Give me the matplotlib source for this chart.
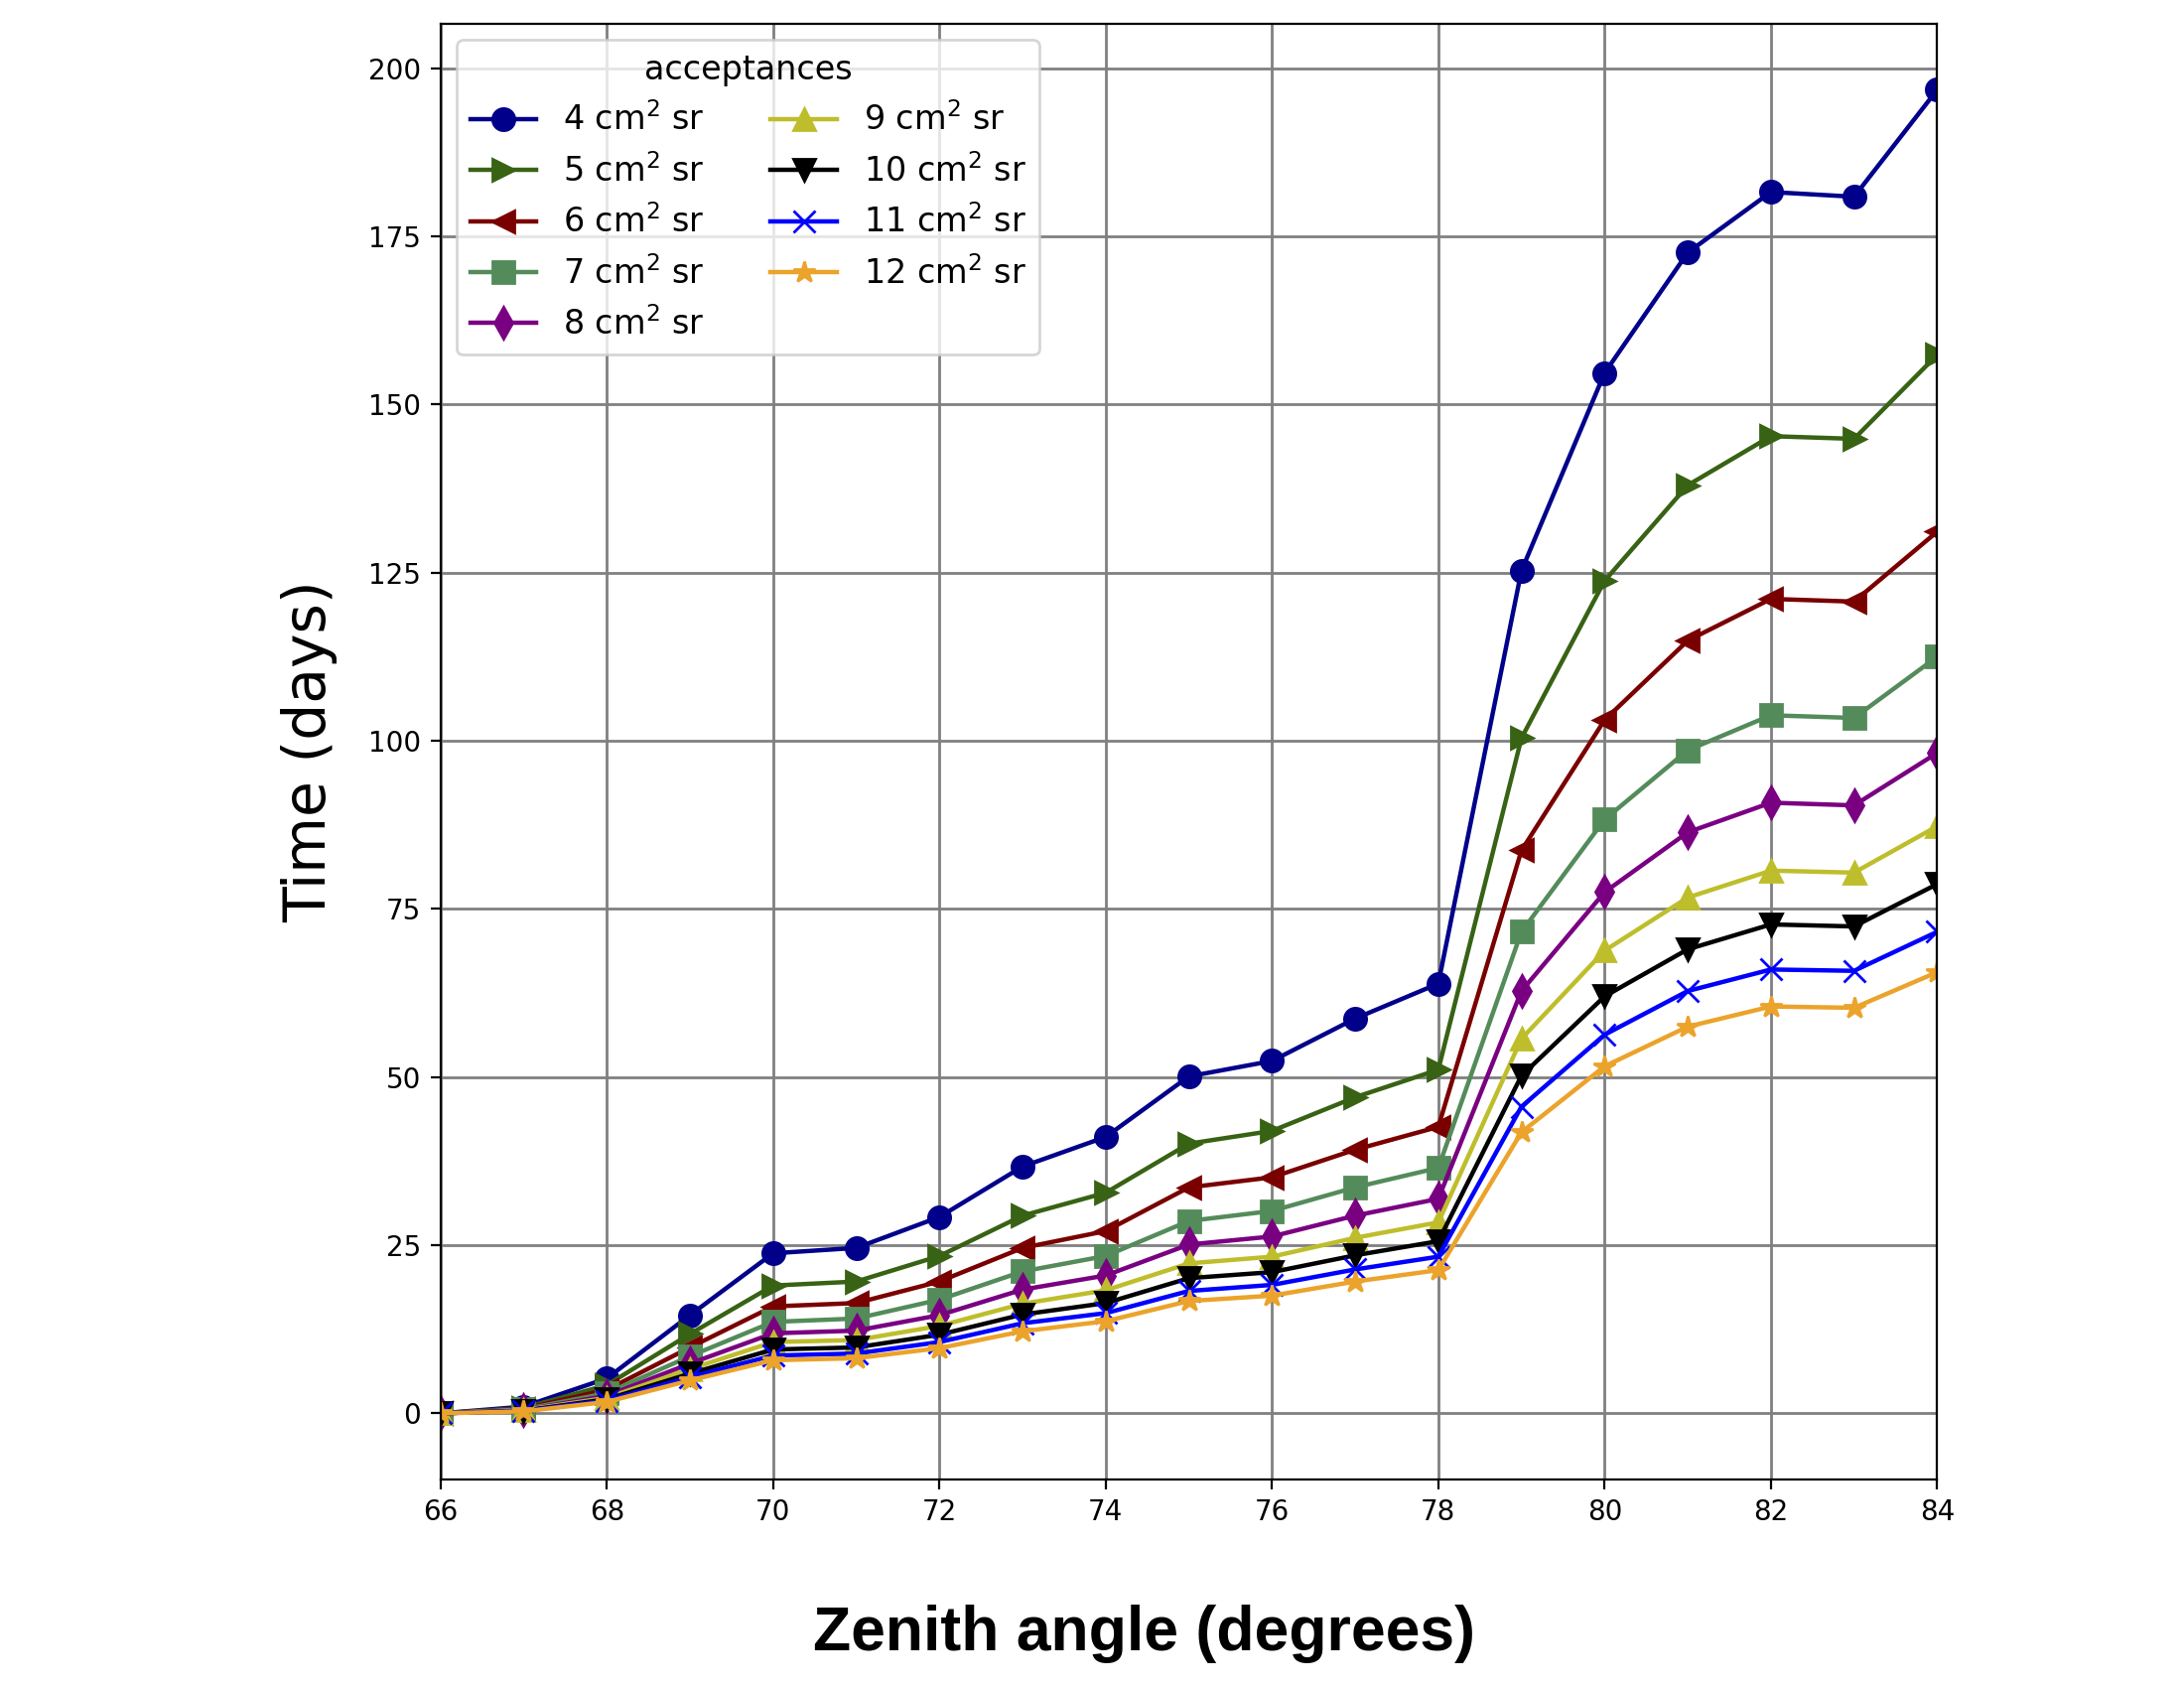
import numpy as np
import matplotlib
matplotlib.use("Agg")
import matplotlib.pyplot as plt

# zenith angles (degrees)
zenith = np.arange(66, 85)

# time (days), one list per acceptance
t_4 = [0.0, 1.0, 5.2, 14.6, 23.8, 24.6, 29.2, 36.7, 41.1, 50.1, 52.4, 58.7, 63.9,
       125.3, 154.7, 172.6, 181.6, 180.9, 196.8]
t_5 = [0.0, 0.8, 4.2, 11.8, 19.0, 19.6, 23.4, 29.4, 32.8, 40.1, 42.0, 47.0, 51.1,
       100.4, 123.8, 138.0, 145.3, 144.9, 157.4]
t_6 = [0.0, 0.7, 3.5, 9.8, 15.9, 16.4, 19.6, 24.6, 27.1, 33.6, 35.1, 39.2, 42.6,
       83.7, 103.1, 114.9, 121.1, 120.7, 131.1]
t_7 = [0.0, 0.6, 3.0, 8.5, 13.6, 14.1, 16.9, 21.1, 23.4, 28.6, 30.1, 33.6, 36.5,
       71.6, 88.3, 98.6, 103.8, 103.4, 112.5]
t_8 = [0.0, 0.5, 2.6, 7.4, 11.9, 12.3, 14.6, 18.4, 20.5, 25.1, 26.3, 29.4, 31.9,
       62.8, 77.5, 86.4, 90.8, 90.4, 98.2]
t_9 = [0.0, 0.5, 2.3, 6.6, 10.6, 10.9, 13.0, 16.3, 18.3, 22.3, 23.3, 26.1, 28.4,
       55.7, 68.8, 76.7, 80.7, 80.4, 87.3]
t_10 = [0.0, 0.4, 2.1, 5.9, 9.5, 9.8, 11.7, 14.7, 16.4, 20.1, 21.0, 23.5, 25.6,
        50.2, 62.0, 69.0, 72.7, 72.4, 78.7]
t_11 = [0.0, 0.4, 1.9, 5.4, 8.6, 8.9, 10.6, 13.4, 14.9, 18.2, 19.1, 21.4, 23.3,
        45.6, 56.3, 62.8, 66.0, 65.8, 71.6]
t_12 = [0.0, 0.3, 1.7, 4.9, 7.9, 8.2, 9.7, 12.2, 13.7, 16.7, 17.5, 19.6, 21.3,
        41.8, 51.6, 57.5, 60.5, 60.3, 65.6]

acceptances = [4, 5, 6, 7, 8, 9, 10, 11, 12]
series = [t_4, t_5, t_6, t_7, t_8, t_9, t_10, t_11, t_12]
colors = ["#00008b", "#386214", "#7a0000", "#548b5a", "#7a0082",
          "#bebe2c", "#000000", "#0000ff", "#eba32b"]
markers = ["o", ">", "<", "s", "d", "^", "v", "x", "*"]

fig = plt.figure(figsize=(11, 8.5), dpi=200)
ax = fig.add_axes([0.2017, 0.1235, 0.6853, 0.8625])

for acc, t, c, m in zip(acceptances, series, colors, markers):
    ax.plot(zenith, t, color=c, marker=m, markersize=8, linewidth=1.6,
            label=f"{acc} cm$^2$ sr")

ax.set_xlim(66, 84)
ax.set_xticks(np.arange(66, 85, 2))
ax.grid(True, color="gray", linewidth=1.0)
ax.set_axisbelow(True)
ax.tick_params(labelsize=10)

ax.set_ylabel("Time (days)", fontsize=21, labelpad=11)
ax.set_xlabel("Zenith angle (degrees)", fontsize=22.5, fontweight="bold",
              family="Liberation Sans")
ax.xaxis.set_label_coords(0.47, -0.086)

ax.legend(title="acceptances", ncol=2, loc="upper left", fontsize=12,
          title_fontsize=12)

fig.savefig("out.png", dpi=200)
